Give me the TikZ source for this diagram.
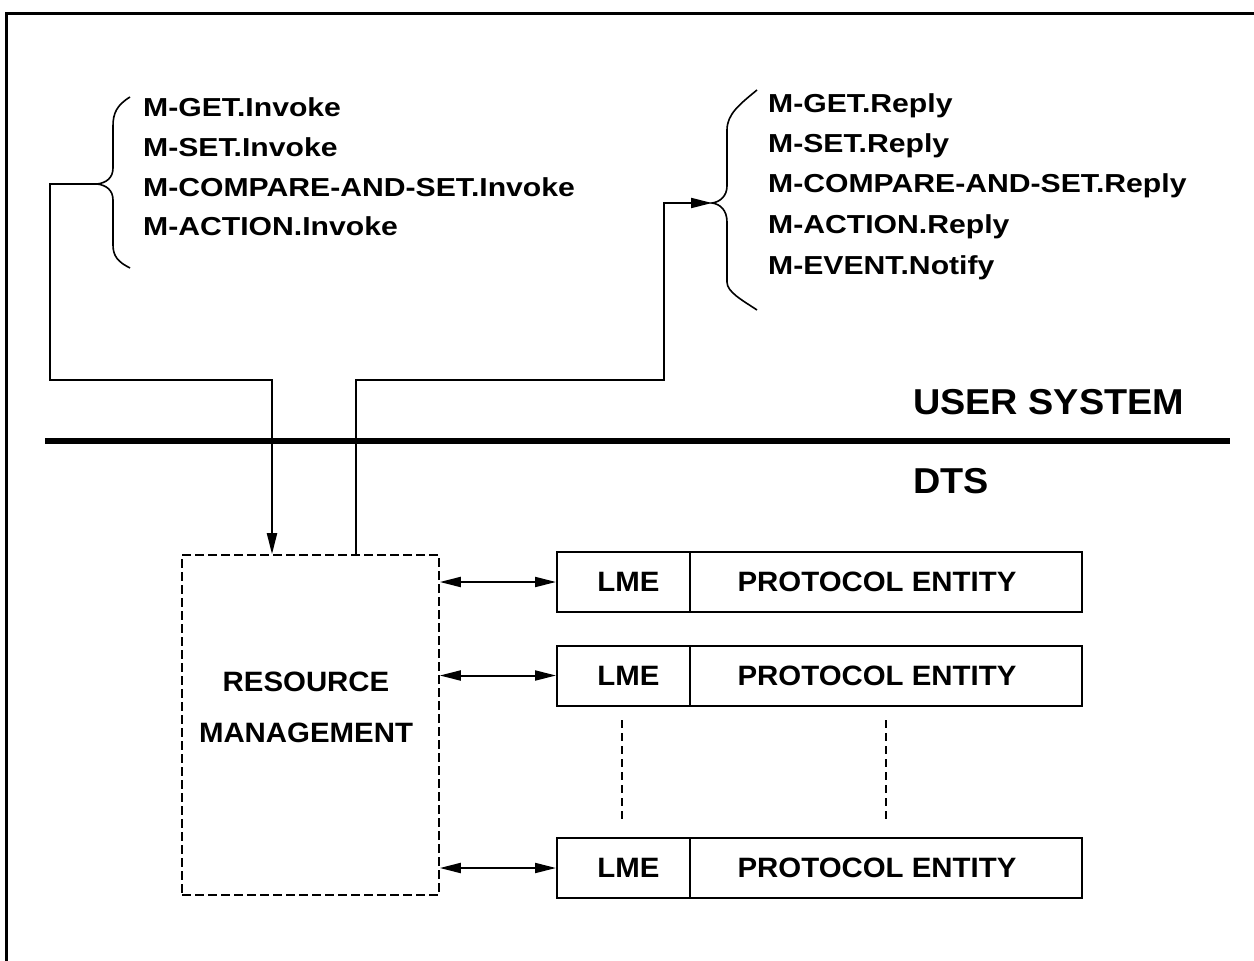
\documentclass[tikz,border=0pt]{standalone}
\usepackage{fontspec}
\setmainfont{Liberation Sans}
\newfontfamily\listfont[FakeStretch=1.16]{Liberation Sans}
\newfontfamily\labfont[FakeStretch=1.05]{Liberation Sans}
\usetikzlibrary{arrows.meta}
\begin{document}
\begin{tikzpicture}[x=1pt,y=-1pt,
  wire/.style={line width=2pt},
  tip/.style={-{Triangle[length=21pt,width=10pt]}},
  dtip/.style={{Triangle[length=21pt,width=10pt]}-{Triangle[length=21pt,width=10pt]}},
  prim/.style={anchor=base west,inner sep=0pt,font=\listfont\bfseries\fontsize{26}{30}\selectfont},
  lab/.style={inner sep=0pt,font=\labfont\bfseries\fontsize{28}{51}\selectfont},
  big/.style={anchor=base west,inner sep=0pt,font=\labfont\bfseries\fontsize{36}{40}\selectfont},
  brace/.style={line width=1.6pt},
  cell/.style={draw,line width=2pt,minimum height=60pt,inner sep=0pt,font=\labfont\bfseries\fontsize{28}{34}\selectfont},
  cont/.style={line width=1.3pt,dash pattern=on 8pt off 5pt}
]
\useasboundingbox (0,0) rectangle (1254,961);

% page frame (top and left edges)
\draw[line width=3pt] (6,961) -- (6,13) -- (1254,13);

% boundary between user system and DTS
\draw[line width=6pt] (45,441) -- (1230,441);
\node[big] (us) at (913,414) {USER SYSTEM};
\node[big] (dts) at (913,493) {DTS};

% request primitives
\node[prim] (l1) at (143,116) {M-GET.Invoke};
\node[prim] (l2) at (143,156) {M-SET.Invoke};
\node[prim] (l3) at (143,196) {M-COMPARE-AND-SET.Invoke};
\node[prim] (l4) at (143,235) {M-ACTION.Invoke};
\coordinate (ltip) at (97,184);
\draw[brace] (130,97) .. controls (117,105) and (113,113) .. (113,126) -- (113,168)
  .. controls (113,178) and (106,183) .. (ltip)
  .. controls (106,185) and (113,190) .. (113,200) -- (113,245)
  .. controls (113,256) and (118,262) .. (130,268);

% reply and notification primitives
\node[prim] (r1) at (768,112) {M-GET.Reply};
\node[prim] (r2) at (768,152) {M-SET.Reply};
\node[prim] (r3) at (768,192) {M-COMPARE-AND-SET.Reply};
\node[prim] (r4) at (768,233) {M-ACTION.Reply};
\node[prim] (r5) at (768,274) {M-EVENT.Notify};
\coordinate (rtip) at (712,203);
\draw[brace] (757,90) .. controls (740,104) and (727,114) .. (727,130) -- (727,186)
  .. controls (727,196) and (720,202) .. (rtip)
  .. controls (720,204) and (727,210) .. (727,222) -- (727,282)
  .. controls (727,292) and (742,300) .. (757,310);

% resource management
\node[draw,line width=1.6pt,dash pattern=on 9pt off 4pt,minimum width=257pt,minimum height=340pt,inner sep=0pt] (rm) at (310.5,725) {};
\node[lab,align=center] (rmtext) at (306,707) {RESOURCE\\MANAGEMENT};

% layer management entities and protocol entities
\node[cell,minimum width=133pt] (lme1) at (623.5,582) {LME\hspace*{-10pt}};
\node[cell,minimum width=392pt] (pe1) at (886,582) {\hspace*{-18pt}PROTOCOL ENTITY};
\node[cell,minimum width=133pt] (lme2) at (623.5,675.5) {LME\hspace*{-10pt}};
\node[cell,minimum width=392pt] (pe2) at (886,675.5) {\hspace*{-18pt}PROTOCOL ENTITY};
\node[cell,minimum width=133pt] (lme3) at (623.5,868) {LME\hspace*{-10pt}};
\node[cell,minimum width=392pt] (pe3) at (886,868) {\hspace*{-18pt}PROTOCOL ENTITY};

\draw[cont] (622,720) -- (622,822);
\draw[cont] (886,720) -- (886,822);

% local management exchanges
\draw[wire,dtip] (rm.east |- lme1.west) -- (lme1.west);
\draw[wire,dtip] (rm.east |- lme2.west) -- (lme2.west);
\draw[wire,dtip] (rm.east |- lme3.west) -- (lme3.west);

% service primitive flows across the boundary
\draw[wire,tip] (ltip) -| (50,380) -| ([xshift=-38.5pt]rm.north);
\draw[wire,tip] ([xshift=45.5pt]rm.north) |- (664,380) |- (rtip);
\end{tikzpicture}
\end{document}
